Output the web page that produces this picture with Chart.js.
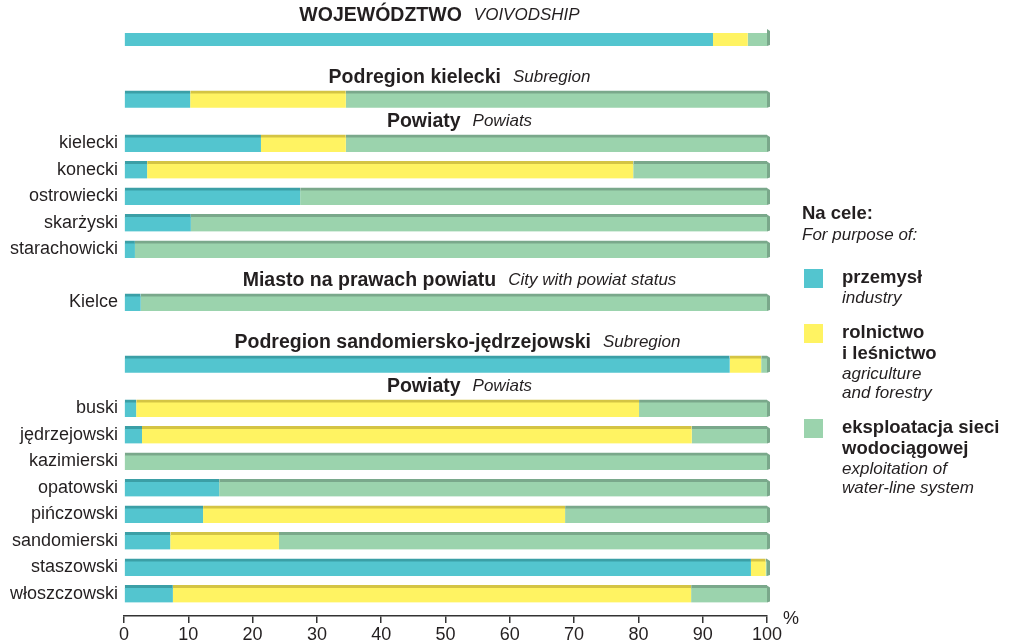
<!DOCTYPE html>
<html>
<head>
<meta charset="utf-8">
<script src="https://cdn.jsdelivr.net/npm/chart.js@4"></script>
<style>
  body { margin: 0; background: #fff; }
  #wrap { position: relative; width: 1012px; height: 643px; }
</style>
</head>
<body>
<div id="wrap"><canvas id="waterUse"></canvas></div>
<script>
const rowLabels = [
    '', '', 'kielecki', 'konecki', 'ostrowiecki', 'skarżyski', 'starachowicki',
    'Kielce', '', 'buski', 'jędrzejowski', 'kazimierski', 'opatowski',
    'pińczowski', 'sandomierski', 'staszowski', 'włoszczowski'
];
const industry = [91.6, 10.3, 21.3, 3.6, 27.4, 10.4, 1.7, 2.6, 94.2, 1.9, 2.8, 0, 14.8, 12.3, 7.2, 97.5, 7.6];
const agriculture = [5.4, 24.2, 13.2, 75.6, 0, 0, 0, 0, 4.9, 78.2, 85.5, 0, 0, 56.3, 16.9, 2.3, 80.6];
const waterSupply = [3.0, 65.5, 65.5, 20.8, 72.6, 89.6, 98.3, 97.4, 0.9, 19.9, 11.7, 100, 85.2, 31.4, 75.9, 0.2, 11.8];
const xTicks = [0, 10, 20, 30, 40, 50, 60, 70, 80, 90, 100];

const groupHeaders = [
    { row: 0, bold: 'WOJEWÓDZTWO', italic: 'VOIVODSHIP', shift: -6 },
    { row: 1, bold: 'Podregion kielecki', italic: 'Subregion', shift: 14 },
    { row: 2, bold: 'Powiaty', italic: 'Powiats', shift: 14 },
    { row: 7, bold: 'Miasto na prawach powiatu', italic: 'City with powiat status', shift: 14 },
    { row: 8, bold: 'Podregion sandomiersko-jędrzejowski', italic: 'Subregion', shift: 12 },
    { row: 9, bold: 'Powiaty', italic: 'Powiats', shift: 14 }
];

const legendItems = [
    { bold: ['przemysł'], italic: ['industry'] },
    { bold: ['rolnictwo', 'i leśnictwo'], italic: ['agriculture', 'and forestry'] },
    { bold: ['eksploatacja sieci', 'wodociągowej'], italic: ['exploitation of', 'water-line system'] }
];

// spacing between bars, counted in thirds of a row
const rowGap = [0, 7, 5, 3, 3, 3, 3, 6, 7, 5, 3, 3, 3, 3, 3, 3, 3];

const FONT = "'Liberation Sans', Arial, sans-serif";
const TEXT = '#231f20';
const fills = ['#53c5cf', '#fff362', '#9bd3ad'];
const edges = ['#3b9fa6', '#d4c444', '#7aa88b'];

// place the rows on a fine category grid
const rowSlot = [];
rowGap.reduce((acc, g) => { rowSlot.push(acc + g); return acc + g; }, 0);
const slotCount = rowSlot[rowSlot.length - 1] + 3;
const slotLabels = Array(slotCount).fill('');
rowSlot.forEach((s, i) => slotLabels[s] = rowLabels[i]);
const toSlots = values => {
    const out = Array(slotCount).fill(null);
    rowSlot.forEach((s, i) => out[s] = values[i]);
    return out;
};

const seriesList = [
    { label: 'przemysł', data: industry },
    { label: 'rolnictwo i leśnictwo', data: agriculture },
    { label: 'eksploatacja sieci wodociągowej', data: waterSupply }
];

const decorations = {
    id: 'decorations',
    afterDatasetsDraw(chart) {
        const ctx = chart.ctx;
        // bevel at the right end of every bar
        rowSlot.forEach((slot) => {
            for (let d = seriesList.length - 1; d >= 0; d--) {
                const bar = chart.getDatasetMeta(d).data[slot];
                const v = chart.data.datasets[d].data[slot];
                if (!bar || !v) continue;
                const top = bar.y - bar.height / 2;
                const bottom = bar.y + bar.height / 2;
                ctx.save();
                ctx.fillStyle = edges[d];
                ctx.beginPath();
                ctx.moveTo(bar.x, top);
                ctx.lineTo(bar.x + 3, top + 2);
                ctx.lineTo(bar.x + 3, bottom - 1);
                ctx.lineTo(bar.x, bottom);
                ctx.closePath();
                ctx.fill();
                ctx.restore();
                break;
            }
        });
    },
    afterDraw(chart) {
        const ctx = chart.ctx;
        const area = chart.chartArea;
        const y = chart.scales.y;
        const cx = (area.left + area.right) / 2;
        ctx.save();
        ctx.fillStyle = TEXT;
        ctx.textBaseline = 'middle';
        ctx.textAlign = 'left';

        groupHeaders.forEach(h => {
            const yy = y.getPixelForValue(rowSlot[h.row]) - 22;
            const boldFont = `bold 19.5px ${FONT}`;
            const italicFont = `italic 17px ${FONT}`;
            ctx.font = boldFont;
            const wb = ctx.measureText(h.bold).width;
            ctx.font = italicFont;
            const wi = ctx.measureText(h.italic).width;
            const gap = 12;
            let x = cx + h.shift - (wb + gap + wi) / 2;
            ctx.font = boldFont;
            ctx.fillText(h.bold, x, yy);
            ctx.font = italicFont;
            ctx.fillText(h.italic, x + wb + gap, yy);
        });

        // percent sign at the axis end
        ctx.font = `18px ${FONT}`;
        ctx.fillText('%', area.right + 16, area.bottom + 3);

        // legend
        ctx.font = `bold 18.5px ${FONT}`;
        ctx.fillText('Na cele:', 802, 214);
        ctx.font = `italic 17px ${FONT}`;
        ctx.fillText('For purpose of:', 802, 235);
        const boxTops = [269, 324, 419];
        legendItems.forEach((item, i) => {
            const top = boxTops[i];
            ctx.fillStyle = fills[i];
            ctx.fillRect(804, top, 19, 19);
            ctx.fillStyle = TEXT;
            let ly = top + 9;
            ctx.font = `bold 18.5px ${FONT}`;
            item.bold.forEach(t => { ctx.fillText(t, 842, ly); ly += 20.5; });
            ctx.font = `italic 17px ${FONT}`;
            item.italic.forEach(t => { ctx.fillText(t, 842, ly); ly += 19.5; });
        });
        ctx.restore();
    }
};

new Chart(document.getElementById('waterUse'), {
    type: 'bar',
    data: {
        labels: slotLabels,
        datasets: seriesList.map((s, i) => ({
            label: s.label,
            data: toSlots(s.data),
            backgroundColor: fills[i],
            borderColor: edges[i],
            borderWidth: { top: 3, right: 0, bottom: 0, left: 0 },
            borderSkipped: false,
            barThickness: 17
        }))
    },
    options: {
        indexAxis: 'y',
        responsive: true,
        maintainAspectRatio: false,
        animation: false,
        layout: { padding: { top: 33, right: 245, bottom: 0, left: 0 } },
        plugins: {
            legend: { display: false },
            tooltip: { enabled: false }
        },
        scales: {
            x: {
                stacked: true,
                min: 0,
                max: 100,
                afterBuildTicks: s => { s.ticks = xTicks.map(v => ({ value: v })); },
                afterFit: s => { s.height = 27; },
                grid: { drawOnChartArea: false, drawTicks: true, tickLength: 7, color: '#333', lineWidth: 1.5 },
                border: { display: true, color: '#333', width: 1.5 },
                ticks: { padding: 1, color: TEXT, font: { family: FONT, size: 18 } }
            },
            y: {
                stacked: true,
                afterFit: s => { s.width = 124; },
                grid: { display: false, drawTicks: false },
                border: { display: false },
                ticks: { autoSkip: false, padding: 6, color: TEXT, font: { family: FONT, size: 18 } }
            }
        }
    },
    plugins: [decorations]
});
</script>
</body>
</html>
